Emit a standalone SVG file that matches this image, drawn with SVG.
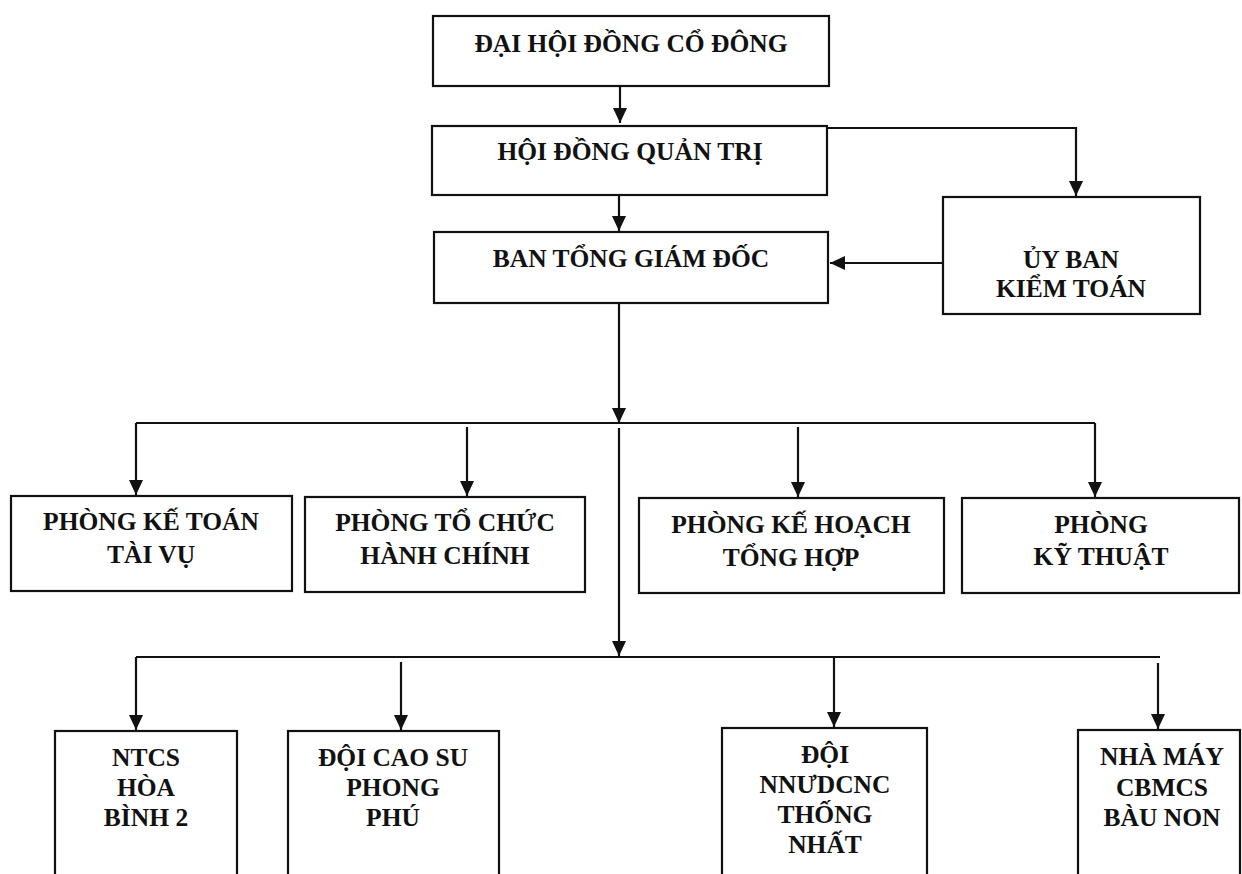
<svg xmlns="http://www.w3.org/2000/svg" width="1242" height="874" viewBox="0 0 1242 874">
<style>
.box{fill:#fff;stroke:#111;stroke-width:2.2}
.lbl{font-family:"Liberation Serif","Times New Roman",serif;font-weight:bold;font-size:25.5px;fill:#111;text-anchor:middle}
.ln{fill:none;stroke:#111;stroke-width:2.2}
.ar{fill:none;stroke:#111;stroke-width:2.2;marker-end:url(#ah)}
</style>
<defs>
<marker id="ah" markerUnits="userSpaceOnUse" markerWidth="16" markerHeight="14" refX="15" refY="7" orient="auto">
<path d="M0,0 L15,7 L0,14 z" fill="#111"/>
</marker>
</defs>
<rect width="1242" height="874" fill="#fff"/>
<g id="connectors">
<path class="ar" d="M620,86 V123"/>
<path class="ar" d="M619,195 V231"/>
<path class="ar" d="M827,128 H1076 V196"/>
<path class="ar" d="M943,263 H830"/>
<path class="ar" d="M619,303 V423"/>
<path class="ln" d="M136,423 H1095"/>
<path class="ar" d="M136,423 V495"/>
<path class="ar" d="M467,427 V496"/>
<path class="ar" d="M798,427 V497"/>
<path class="ar" d="M1095,423 V497"/>
<path class="ar" d="M619,428 V656"/>
<path class="ln" d="M136,657 H1160"/>
<path class="ar" d="M136,657 V730"/>
<path class="ar" d="M401,662 V730"/>
<path class="ar" d="M834,657 V727"/>
<path class="ar" d="M1158,663 V729"/>
</g>
<g id="dhdcd">
<rect class="box" x="433" y="16" width="396" height="70"/>
<text class="lbl" x="631" y="52">ĐẠI HỘI ĐỒNG CỔ ĐÔNG</text>
</g>
<g id="hdqt">
<rect class="box" x="432" y="126" width="395" height="69"/>
<text class="lbl" x="630" y="160">HỘI ĐỒNG QUẢN TRỊ</text>
</g>
<g id="btgd">
<rect class="box" x="434" y="232" width="394" height="71"/>
<text class="lbl" x="631" y="267">BAN TỔNG GIÁM ĐỐC</text>
</g>
<g id="ubkt">
<rect class="box" x="943" y="197" width="257" height="117"/>
<text class="lbl" x="1071" y="268">ỦY BAN</text>
<text class="lbl" x="1071" y="297">KIỂM TOÁN</text>
</g>
<g id="pkttv">
<rect class="box" x="11" y="496" width="281" height="95"/>
<text class="lbl" x="151" y="530">PHÒNG KẾ TOÁN</text>
<text class="lbl" x="151" y="563">TÀI VỤ</text>
</g>
<g id="ptchc">
<rect class="box" x="305" y="497" width="280" height="95"/>
<text class="lbl" x="445" y="531">PHÒNG TỔ CHỨC</text>
<text class="lbl" x="445" y="564">HÀNH CHÍNH</text>
</g>
<g id="pkhth">
<rect class="box" x="639" y="498" width="305" height="95"/>
<text class="lbl" x="791" y="533">PHÒNG KẾ HOẠCH</text>
<text class="lbl" x="791" y="566">TỔNG HỢP</text>
</g>
<g id="pkt">
<rect class="box" x="962" y="498" width="277" height="95"/>
<text class="lbl" x="1101" y="533">PHÒNG</text>
<text class="lbl" x="1101" y="565">KỸ THUẬT</text>
</g>
<g id="ntcs">
<rect class="box" x="55" y="731" width="182" height="150"/>
<text class="lbl" x="146" y="766">NTCS</text>
<text class="lbl" x="146" y="796">HÒA</text>
<text class="lbl" x="146" y="826">BÌNH 2</text>
</g>
<g id="dcspp">
<rect class="box" x="288" y="731" width="211" height="150"/>
<text class="lbl" x="393" y="766">ĐỘI CAO SU</text>
<text class="lbl" x="393" y="796">PHONG</text>
<text class="lbl" x="393" y="826">PHÚ</text>
</g>
<g id="dnn">
<rect class="box" x="722" y="728" width="205" height="153"/>
<text class="lbl" x="825" y="763">ĐỘI</text>
<text class="lbl" x="825" y="793">NNƯDCNC</text>
<text class="lbl" x="825" y="823">THỐNG</text>
<text class="lbl" x="825" y="853">NHẤT</text>
</g>
<g id="nmbn">
<rect class="box" x="1078" y="730" width="162" height="151"/>
<text class="lbl" x="1162" y="765">NHÀ MÁY</text>
<text class="lbl" x="1162" y="796">CBMCS</text>
<text class="lbl" x="1162" y="826">BÀU NON</text>
</g>
</svg>
